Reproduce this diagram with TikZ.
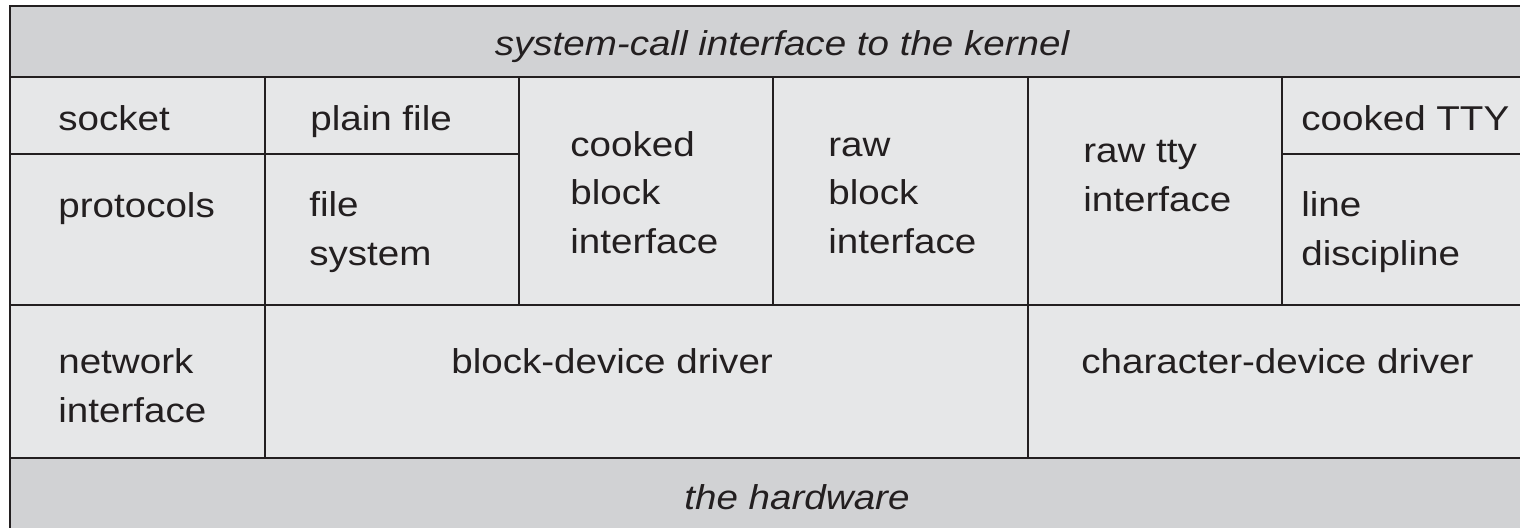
\documentclass[tikz,border=0pt]{standalone}
\usepackage{fontspec}
\setmainfont{Liberation Sans}[FakeStretch=1.12]
\usepackage{tikz}
\definecolor{band}{HTML}{D1D2D4}
\definecolor{cell}{HTML}{E6E7E8}
\definecolor{ink}{HTML}{231F20}
\tikzset{
  rule/.style={draw=ink, line width=1.4pt},
  lab/.style={anchor=base west, inner sep=0pt, align=left, text=ink, font=\fontsize{19.6}{27.5}\selectfont},
  labi/.style={anchor=base, inner sep=0pt, text=ink, font=\fontsize{19.6}{27.5}\selectfont\itshape},
}

\begin{document}
\begin{tikzpicture}[x=0.02cm, y=-0.02cm]
  \useasboundingbox (0,0) rectangle (1520,527);
  \clip (0,0) rectangle (1520,527);

  % bands and frame
  \fill[band] (10,6) rectangle (1560,560);
  \fill[cell] (10,77) rectangle (1560,458);
  \draw[rule] (10,6) rectangle (1560,560);
  \draw[rule] (10,77) -- (1560,77);
  \draw[rule] (10,305) -- (1560,305);
  \draw[rule] (10,458) -- (1560,458);

  % middle row
  \foreach \x in {265,519,773,1028,1282}
    \draw[rule] (\x,77) -- (\x,305);
  \draw[rule] (10,154) -- (519,154);
  \draw[rule] (1282,154) -- (1560,154);

  % driver row
  \foreach \x in {265,1028}
    \draw[rule] (\x,305) -- (\x,458);

  % multi-line labels sit on their last baseline
  \node[labi] (sci) at (782,56) {system-call interface to the kernel};
  \node[labi] (hw) at (797,509) {the hardware};

  \node[lab] (sock) at (58,131) {socket};
  \node[lab] (proto) at (58,217) {protocols};
  \node[lab] (plain) at (310,131) {plain file};
  \node[lab] (fsys) at (309,265) {file\\system};
  \node[lab] (cbi) at (570,253) {cooked\\block\\interface};
  \node[lab] (rbi) at (828,253) {raw\\block\\interface};
  \node[lab] (rtty) at (1083,211) {raw tty\\interface};
  \node[lab] (ctty) at (1301,131) {cooked TTY};
  \node[lab] (ldisc) at (1301,265) {line\\discipline};
  \node[lab] (netif) at (58,422) {network\\interface};
  \node[lab] (bdd) at (451,373) {block-device driver};
  \node[lab] (cdd) at (1081,373) {character-device driver};
\end{tikzpicture}
\end{document}
